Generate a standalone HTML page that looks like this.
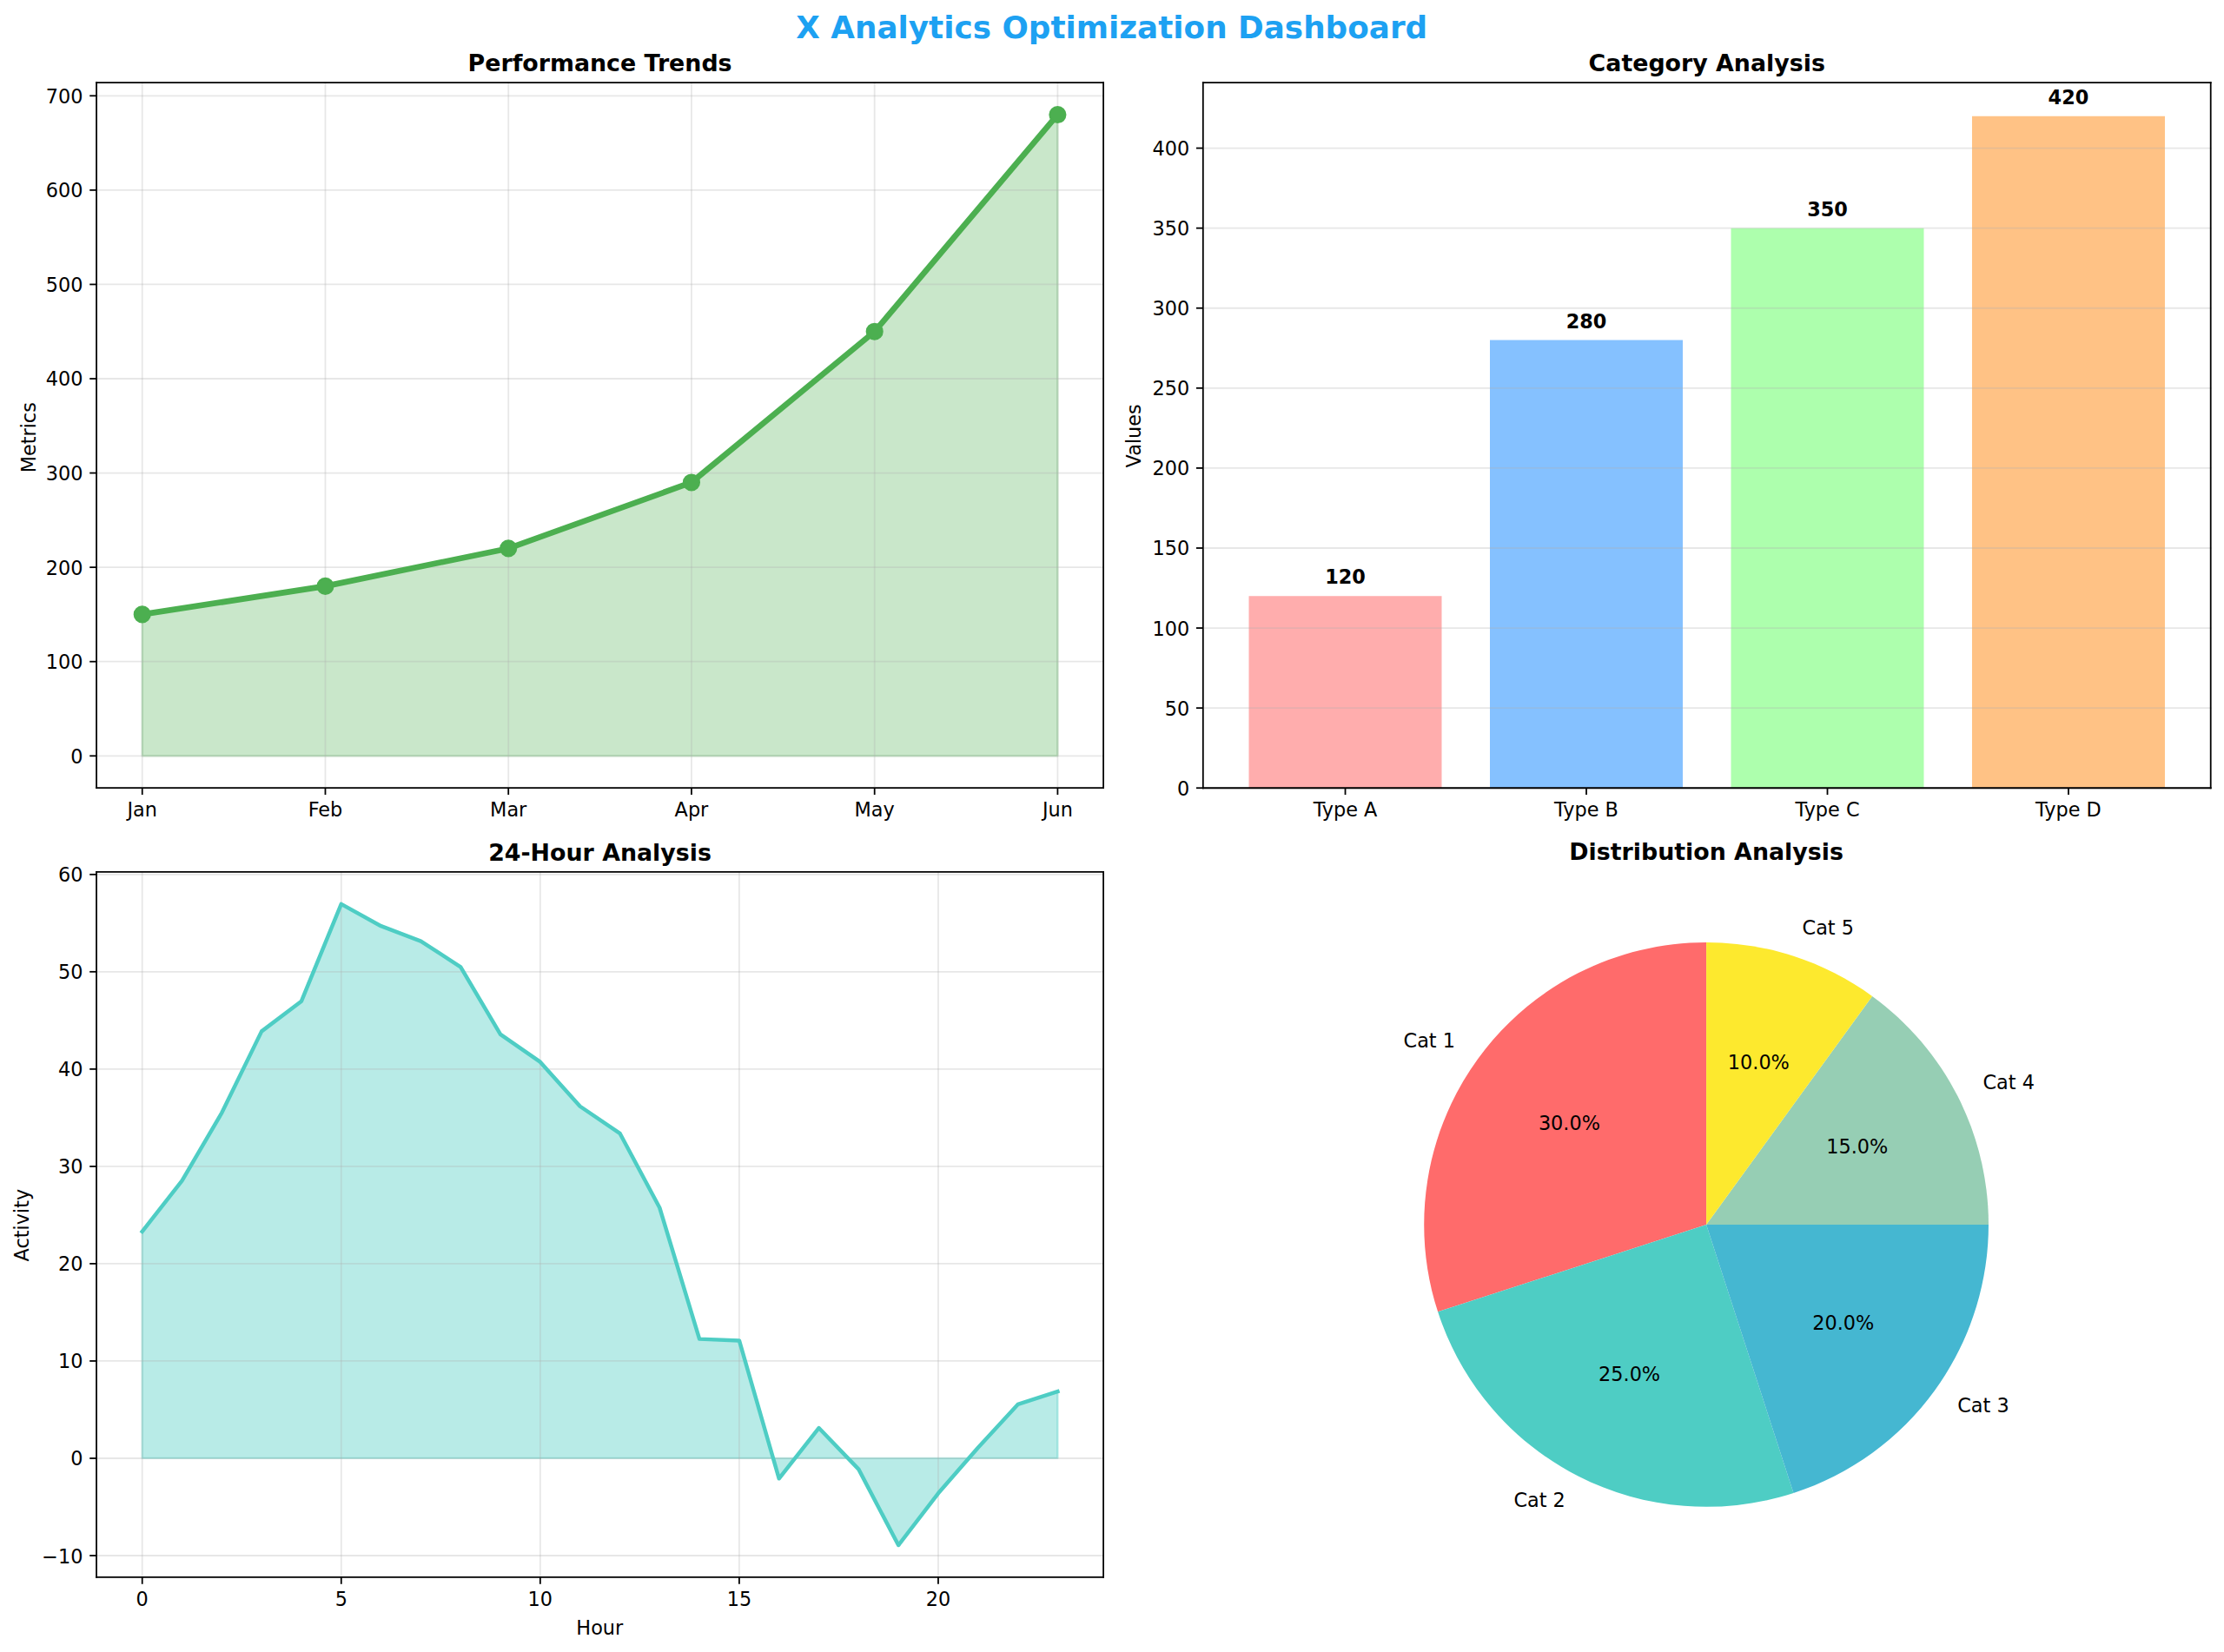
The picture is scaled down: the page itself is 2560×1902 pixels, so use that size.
<!DOCTYPE html>
<html lang="en">
<head>
<meta charset="utf-8">
<title>X Analytics Optimization Dashboard</title>
<style>
html,body{margin:0;padding:0;background:#fff}
body{width:2560px;height:1902px;overflow:hidden;font-family:"DejaVu Sans","Liberation Sans",sans-serif}
svg{display:block;position:absolute;left:0;top:0}
</style>
</head>
<body>
<svg width="2560" height="1902" viewBox="0 0 1144.8 850.32" preserveAspectRatio="none" style="stroke-linejoin:round;stroke-linecap:butt;font-family:'DejaVu Sans','Liberation Sans',sans-serif">
  <path d="M 0 850.32 L 1144.8 850.32 L 1144.8 0 L 0 0 z" style="fill:#ffffff"/>
  <g id="chart-1" class="chart">
   <path d="M 49.66 405.58 L 567.97 405.58 L 567.97 42.52 L 49.66 42.52 z" style="fill:#ffffff"/>
   <path d="M 73.22 -461.24 L 73.22 -534.05 L 167.46 -548.61 L 261.7 -568.03 L 355.94 -602 L 450.18 -679.66 L 544.41 -791.3 L 544.41 -461.24 L 544.41 -461.24 L 450.18 -461.24 L 355.94 -461.24 L 261.7 -461.24 L 167.46 -461.24 L 73.22 -461.24 z" transform="translate(0,850.32)" style="fill:#4caf50;fill-opacity:0.3;stroke:#4caf50;stroke-opacity:0.3"/>
   <path d="M 73.22 405.58 L 73.22 42.52" style="fill:none;stroke:#b0b0b0;stroke-opacity:0.3;stroke-width:0.8;stroke-linecap:square"/>
   <path d="M 0 0 L 0 3.5" transform="translate(73.22,405.58)" style="stroke:#000000;stroke-width:0.8"/>
   <text style="font-size:10px;font-family:'DejaVu Sans',sans-serif;text-anchor:middle" x="73.22" y="420.18">Jan</text>
   <path d="M 167.46 405.58 L 167.46 42.52" style="fill:none;stroke:#b0b0b0;stroke-opacity:0.3;stroke-width:0.8;stroke-linecap:square"/>
   <path d="M 0 0 L 0 3.5" transform="translate(167.46,405.58)" style="stroke:#000000;stroke-width:0.8"/>
   <text style="font-size:10px;font-family:'DejaVu Sans',sans-serif;text-anchor:middle" x="167.46" y="420.18">Feb</text>
   <path d="M 261.7 405.58 L 261.7 42.52" style="fill:none;stroke:#b0b0b0;stroke-opacity:0.3;stroke-width:0.8;stroke-linecap:square"/>
   <path d="M 0 0 L 0 3.5" transform="translate(261.7,405.58)" style="stroke:#000000;stroke-width:0.8"/>
   <text style="font-size:10px;font-family:'DejaVu Sans',sans-serif;text-anchor:middle" x="261.7" y="420.18">Mar</text>
   <path d="M 355.94 405.58 L 355.94 42.52" style="fill:none;stroke:#b0b0b0;stroke-opacity:0.3;stroke-width:0.8;stroke-linecap:square"/>
   <path d="M 0 0 L 0 3.5" transform="translate(355.94,405.58)" style="stroke:#000000;stroke-width:0.8"/>
   <text style="font-size:10px;font-family:'DejaVu Sans',sans-serif;text-anchor:middle" x="355.94" y="420.18">Apr</text>
   <path d="M 450.18 405.58 L 450.18 42.52" style="fill:none;stroke:#b0b0b0;stroke-opacity:0.3;stroke-width:0.8;stroke-linecap:square"/>
   <path d="M 0 0 L 0 3.5" transform="translate(450.18,405.58)" style="stroke:#000000;stroke-width:0.8"/>
   <text style="font-size:10px;font-family:'DejaVu Sans',sans-serif;text-anchor:middle" x="450.18" y="420.18">May</text>
   <path d="M 544.41 405.58 L 544.41 42.52" style="fill:none;stroke:#b0b0b0;stroke-opacity:0.3;stroke-width:0.8;stroke-linecap:square"/>
   <path d="M 0 0 L 0 3.5" transform="translate(544.41,405.58)" style="stroke:#000000;stroke-width:0.8"/>
   <text style="font-size:10px;font-family:'DejaVu Sans',sans-serif;text-anchor:middle" x="544.41" y="420.18">Jun</text>
   <path d="M 49.66 389.08 L 567.97 389.08" style="fill:none;stroke:#b0b0b0;stroke-opacity:0.3;stroke-width:0.8;stroke-linecap:square"/>
   <path d="M 0 0 L -3.5 0" transform="translate(49.66,389.08)" style="stroke:#000000;stroke-width:0.8"/>
   <text style="font-size:10px;font-family:'DejaVu Sans',sans-serif;text-anchor:end" x="42.66" y="392.88">0</text>
   <path d="M 49.66 340.54 L 567.97 340.54" style="fill:none;stroke:#b0b0b0;stroke-opacity:0.3;stroke-width:0.8;stroke-linecap:square"/>
   <path d="M 0 0 L -3.5 0" transform="translate(49.66,340.54)" style="stroke:#000000;stroke-width:0.8"/>
   <text style="font-size:10px;font-family:'DejaVu Sans',sans-serif;text-anchor:end" x="42.66" y="344.34">100</text>
   <path d="M 49.66 292 L 567.97 292" style="fill:none;stroke:#b0b0b0;stroke-opacity:0.3;stroke-width:0.8;stroke-linecap:square"/>
   <path d="M 0 0 L -3.5 0" transform="translate(49.66,292)" style="stroke:#000000;stroke-width:0.8"/>
   <text style="font-size:10px;font-family:'DejaVu Sans',sans-serif;text-anchor:end" x="42.66" y="295.8">200</text>
   <path d="M 49.66 243.46 L 567.97 243.46" style="fill:none;stroke:#b0b0b0;stroke-opacity:0.3;stroke-width:0.8;stroke-linecap:square"/>
   <path d="M 0 0 L -3.5 0" transform="translate(49.66,243.46)" style="stroke:#000000;stroke-width:0.8"/>
   <text style="font-size:10px;font-family:'DejaVu Sans',sans-serif;text-anchor:end" x="42.66" y="247.26">300</text>
   <path d="M 49.66 194.92 L 567.97 194.92" style="fill:none;stroke:#b0b0b0;stroke-opacity:0.3;stroke-width:0.8;stroke-linecap:square"/>
   <path d="M 0 0 L -3.5 0" transform="translate(49.66,194.93)" style="stroke:#000000;stroke-width:0.8"/>
   <text style="font-size:10px;font-family:'DejaVu Sans',sans-serif;text-anchor:end" x="42.66" y="198.72">400</text>
   <path d="M 49.66 146.39 L 567.97 146.39" style="fill:none;stroke:#b0b0b0;stroke-opacity:0.3;stroke-width:0.8;stroke-linecap:square"/>
   <path d="M 0 0 L -3.5 0" transform="translate(49.66,146.39)" style="stroke:#000000;stroke-width:0.8"/>
   <text style="font-size:10px;font-family:'DejaVu Sans',sans-serif;text-anchor:end" x="42.66" y="150.19">500</text>
   <path d="M 49.66 97.85 L 567.97 97.85" style="fill:none;stroke:#b0b0b0;stroke-opacity:0.3;stroke-width:0.8;stroke-linecap:square"/>
   <path d="M 0 0 L -3.5 0" transform="translate(49.66,97.85)" style="stroke:#000000;stroke-width:0.8"/>
   <text style="font-size:10px;font-family:'DejaVu Sans',sans-serif;text-anchor:end" x="42.66" y="101.65">600</text>
   <path d="M 49.66 49.31 L 567.97 49.31" style="fill:none;stroke:#b0b0b0;stroke-opacity:0.3;stroke-width:0.8;stroke-linecap:square"/>
   <path d="M 0 0 L -3.5 0" transform="translate(49.66,49.31)" style="stroke:#000000;stroke-width:0.8"/>
   <text style="font-size:10px;font-family:'DejaVu Sans',sans-serif;text-anchor:end" x="42.66" y="53.11">700</text>
   <text style="font-size:10px;font-family:'DejaVu Sans',sans-serif;text-anchor:middle" x="18.39" y="225.21" transform="rotate(-90 18.39 225.21)">Metrics</text>
   <path d="M 73.22 316.27 L 167.46 301.71 L 261.7 282.29 L 355.94 248.32 L 450.18 170.66 L 544.41 59.02" style="fill:none;stroke:#4caf50;stroke-width:3;stroke-linecap:square"/>
   <path d="M 0 4 C 1.06 4 2.08 3.58 2.83 2.83 C 3.58 2.08 4 1.06 4 0 C 4 -1.06 3.58 -2.08 2.83 -2.83 C 2.08 -3.58 1.06 -4 0 -4 C -1.06 -4 -2.08 -3.58 -2.83 -2.83 C -3.58 -2.08 -4 -1.06 -4 0 C -4 1.06 -3.58 2.08 -2.83 2.83 C -2.08 3.58 -1.06 4 0 4 z" transform="translate(73.22,316.27)" style="fill:#4caf50;stroke:#4caf50"/>
   <path d="M 0 4 C 1.06 4 2.08 3.58 2.83 2.83 C 3.58 2.08 4 1.06 4 0 C 4 -1.06 3.58 -2.08 2.83 -2.83 C 2.08 -3.58 1.06 -4 0 -4 C -1.06 -4 -2.08 -3.58 -2.83 -2.83 C -3.58 -2.08 -4 -1.06 -4 0 C -4 1.06 -3.58 2.08 -2.83 2.83 C -2.08 3.58 -1.06 4 0 4 z" transform="translate(167.46,301.71)" style="fill:#4caf50;stroke:#4caf50"/>
   <path d="M 0 4 C 1.06 4 2.08 3.58 2.83 2.83 C 3.58 2.08 4 1.06 4 0 C 4 -1.06 3.58 -2.08 2.83 -2.83 C 2.08 -3.58 1.06 -4 0 -4 C -1.06 -4 -2.08 -3.58 -2.83 -2.83 C -3.58 -2.08 -4 -1.06 -4 0 C -4 1.06 -3.58 2.08 -2.83 2.83 C -2.08 3.58 -1.06 4 0 4 z" transform="translate(261.7,282.29)" style="fill:#4caf50;stroke:#4caf50"/>
   <path d="M 0 4 C 1.06 4 2.08 3.58 2.83 2.83 C 3.58 2.08 4 1.06 4 0 C 4 -1.06 3.58 -2.08 2.83 -2.83 C 2.08 -3.58 1.06 -4 0 -4 C -1.06 -4 -2.08 -3.58 -2.83 -2.83 C -3.58 -2.08 -4 -1.06 -4 0 C -4 1.06 -3.58 2.08 -2.83 2.83 C -2.08 3.58 -1.06 4 0 4 z" transform="translate(355.94,248.32)" style="fill:#4caf50;stroke:#4caf50"/>
   <path d="M 0 4 C 1.06 4 2.08 3.58 2.83 2.83 C 3.58 2.08 4 1.06 4 0 C 4 -1.06 3.58 -2.08 2.83 -2.83 C 2.08 -3.58 1.06 -4 0 -4 C -1.06 -4 -2.08 -3.58 -2.83 -2.83 C -3.58 -2.08 -4 -1.06 -4 0 C -4 1.06 -3.58 2.08 -2.83 2.83 C -2.08 3.58 -1.06 4 0 4 z" transform="translate(450.18,170.66)" style="fill:#4caf50;stroke:#4caf50"/>
   <path d="M 0 4 C 1.06 4 2.08 3.58 2.83 2.83 C 3.58 2.08 4 1.06 4 0 C 4 -1.06 3.58 -2.08 2.83 -2.83 C 2.08 -3.58 1.06 -4 0 -4 C -1.06 -4 -2.08 -3.58 -2.83 -2.83 C -3.58 -2.08 -4 -1.06 -4 0 C -4 1.06 -3.58 2.08 -2.83 2.83 C -2.08 3.58 -1.06 4 0 4 z" transform="translate(544.41,59.02)" style="fill:#4caf50;stroke:#4caf50"/>
   <path d="M 49.66 405.58 L 49.66 42.52" style="fill:none;stroke:#000000;stroke-width:0.8;stroke-linejoin:miter;stroke-linecap:square"/>
   <path d="M 567.97 405.58 L 567.97 42.52" style="fill:none;stroke:#000000;stroke-width:0.8;stroke-linejoin:miter;stroke-linecap:square"/>
   <path d="M 49.66 405.58 L 567.97 405.58" style="fill:none;stroke:#000000;stroke-width:0.8;stroke-linejoin:miter;stroke-linecap:square"/>
   <path d="M 49.66 42.52 L 567.97 42.52" style="fill:none;stroke:#000000;stroke-width:0.8;stroke-linejoin:miter;stroke-linecap:square"/>
   <text style="font-weight:700;font-size:12px;font-family:'DejaVu Sans',sans-serif;text-anchor:middle" x="308.82" y="36.52">Performance Trends</text>
  </g>
  <g id="chart-2" class="chart">
   <path d="M 619.27 405.6 L 1137.96 405.6 L 1137.96 42.49 L 619.27 42.49 z" style="fill:#ffffff"/>
   <path d="M 642.84 405.6 L 742.11 405.6 L 742.11 306.8 L 642.84 306.8 z" style="fill:#ff9999;opacity:0.8"/>
   <path d="M 766.93 405.6 L 866.2 405.6 L 866.2 175.06 L 766.93 175.06 z" style="fill:#66b2ff;opacity:0.8"/>
   <path d="M 891.02 405.6 L 990.29 405.6 L 990.29 117.42 L 891.02 117.42 z" style="fill:#99ff99;opacity:0.8"/>
   <path d="M 1015.11 405.6 L 1114.38 405.6 L 1114.38 59.78 L 1015.11 59.78 z" style="fill:#ffb366;opacity:0.8"/>
   <path d="M 0 0 L 0 3.5" transform="translate(692.48,405.6)" style="stroke:#000000;stroke-width:0.8"/>
   <text style="font-size:10px;font-family:'DejaVu Sans',sans-serif;text-anchor:middle" x="692.48" y="420.2">Type A</text>
   <path d="M 0 0 L 0 3.5" transform="translate(816.57,405.6)" style="stroke:#000000;stroke-width:0.8"/>
   <text style="font-size:10px;font-family:'DejaVu Sans',sans-serif;text-anchor:middle" x="816.57" y="420.2">Type B</text>
   <path d="M 0 0 L 0 3.5" transform="translate(940.66,405.6)" style="stroke:#000000;stroke-width:0.8"/>
   <text style="font-size:10px;font-family:'DejaVu Sans',sans-serif;text-anchor:middle" x="940.66" y="420.2">Type C</text>
   <path d="M 0 0 L 0 3.5" transform="translate(1064.74,405.6)" style="stroke:#000000;stroke-width:0.8"/>
   <text style="font-size:10px;font-family:'DejaVu Sans',sans-serif;text-anchor:middle" x="1064.74" y="420.2">Type D</text>
   <path d="M 619.27 405.6 L 1137.96 405.6" style="fill:none;stroke:#b0b0b0;stroke-opacity:0.3;stroke-width:0.8;stroke-linecap:square"/>
   <path d="M 0 0 L -3.5 0" transform="translate(619.26,405.6)" style="stroke:#000000;stroke-width:0.8"/>
   <text style="font-size:10px;font-family:'DejaVu Sans',sans-serif;text-anchor:end" x="612.26" y="409.4">0</text>
   <path d="M 619.27 364.43 L 1137.96 364.43" style="fill:none;stroke:#b0b0b0;stroke-opacity:0.3;stroke-width:0.8;stroke-linecap:square"/>
   <path d="M 0 0 L -3.5 0" transform="translate(619.26,364.43)" style="stroke:#000000;stroke-width:0.8"/>
   <text style="font-size:10px;font-family:'DejaVu Sans',sans-serif;text-anchor:end" x="612.26" y="368.23">50</text>
   <path d="M 619.27 323.26 L 1137.96 323.26" style="fill:none;stroke:#b0b0b0;stroke-opacity:0.3;stroke-width:0.8;stroke-linecap:square"/>
   <path d="M 0 0 L -3.5 0" transform="translate(619.26,323.26)" style="stroke:#000000;stroke-width:0.8"/>
   <text style="font-size:10px;font-family:'DejaVu Sans',sans-serif;text-anchor:end" x="612.26" y="327.06">100</text>
   <path d="M 619.27 282.1 L 1137.96 282.1" style="fill:none;stroke:#b0b0b0;stroke-opacity:0.3;stroke-width:0.8;stroke-linecap:square"/>
   <path d="M 0 0 L -3.5 0" transform="translate(619.26,282.1)" style="stroke:#000000;stroke-width:0.8"/>
   <text style="font-size:10px;font-family:'DejaVu Sans',sans-serif;text-anchor:end" x="612.26" y="285.89">150</text>
   <path d="M 619.27 240.93 L 1137.96 240.93" style="fill:none;stroke:#b0b0b0;stroke-opacity:0.3;stroke-width:0.8;stroke-linecap:square"/>
   <path d="M 0 0 L -3.5 0" transform="translate(619.26,240.93)" style="stroke:#000000;stroke-width:0.8"/>
   <text style="font-size:10px;font-family:'DejaVu Sans',sans-serif;text-anchor:end" x="612.26" y="244.73">200</text>
   <path d="M 619.27 199.76 L 1137.96 199.76" style="fill:none;stroke:#b0b0b0;stroke-opacity:0.3;stroke-width:0.8;stroke-linecap:square"/>
   <path d="M 0 0 L -3.5 0" transform="translate(619.26,199.76)" style="stroke:#000000;stroke-width:0.8"/>
   <text style="font-size:10px;font-family:'DejaVu Sans',sans-serif;text-anchor:end" x="612.26" y="203.56">250</text>
   <path d="M 619.27 158.59 L 1137.96 158.59" style="fill:none;stroke:#b0b0b0;stroke-opacity:0.3;stroke-width:0.8;stroke-linecap:square"/>
   <path d="M 0 0 L -3.5 0" transform="translate(619.26,158.59)" style="stroke:#000000;stroke-width:0.8"/>
   <text style="font-size:10px;font-family:'DejaVu Sans',sans-serif;text-anchor:end" x="612.26" y="162.39">300</text>
   <path d="M 619.27 117.42 L 1137.96 117.42" style="fill:none;stroke:#b0b0b0;stroke-opacity:0.3;stroke-width:0.8;stroke-linecap:square"/>
   <path d="M 0 0 L -3.5 0" transform="translate(619.26,117.42)" style="stroke:#000000;stroke-width:0.8"/>
   <text style="font-size:10px;font-family:'DejaVu Sans',sans-serif;text-anchor:end" x="612.26" y="121.22">350</text>
   <path d="M 619.27 76.25 L 1137.96 76.25" style="fill:none;stroke:#b0b0b0;stroke-opacity:0.3;stroke-width:0.8;stroke-linecap:square"/>
   <path d="M 0 0 L -3.5 0" transform="translate(619.26,76.25)" style="stroke:#000000;stroke-width:0.8"/>
   <text style="font-size:10px;font-family:'DejaVu Sans',sans-serif;text-anchor:end" x="612.26" y="80.05">400</text>
   <text style="font-size:10px;font-family:'DejaVu Sans',sans-serif;text-anchor:middle" x="587.1" y="224.36" transform="rotate(-90 587.1 224.36)">Values</text>
   <path d="M 619.27 405.6 L 619.27 42.49" style="fill:none;stroke:#000000;stroke-width:0.8;stroke-linejoin:miter;stroke-linecap:square"/>
   <path d="M 1137.96 405.6 L 1137.96 42.49" style="fill:none;stroke:#000000;stroke-width:0.8;stroke-linejoin:miter;stroke-linecap:square"/>
   <path d="M 619.27 405.6 L 1137.96 405.6" style="fill:none;stroke:#000000;stroke-width:0.8;stroke-linejoin:miter;stroke-linecap:square"/>
   <path d="M 619.27 42.49 L 1137.96 42.49" style="fill:none;stroke:#000000;stroke-width:0.8;stroke-linejoin:miter;stroke-linecap:square"/>
   <text style="font-weight:700;font-size:10px;font-family:'DejaVu Sans',sans-serif;text-anchor:middle" x="692.48" y="300.6">120</text>
   <text style="font-weight:700;font-size:10px;font-family:'DejaVu Sans',sans-serif;text-anchor:middle" x="816.57" y="168.86">280</text>
   <text style="font-weight:700;font-size:10px;font-family:'DejaVu Sans',sans-serif;text-anchor:middle" x="940.66" y="111.22">350</text>
   <text style="font-weight:700;font-size:10px;font-family:'DejaVu Sans',sans-serif;text-anchor:middle" x="1064.74" y="53.59">420</text>
   <text style="font-weight:700;font-size:12px;font-family:'DejaVu Sans',sans-serif;text-anchor:middle" x="878.61" y="36.49">Category Analysis</text>
  </g>
  <g id="chart-3" class="chart">
   <path d="M 49.65 811.85 L 567.97 811.85 L 567.97 448.83 L 49.65 448.83 z" style="fill:#ffffff"/>
   <path d="M 73.21 -99.7 L 73.21 -216.45 L 93.7 -242.54 L 114.19 -277.6 L 134.67 -319.48 L 155.16 -335 L 175.65 -384.99 L 196.13 -373.67 L 216.62 -365.9 L 237.11 -352.58 L 257.59 -317.92 L 278.08 -303.7 L 298.57 -280.86 L 319.06 -266.99 L 339.54 -228.67 L 360.03 -161.11 L 380.52 -160.3 L 401 -89.28 L 421.49 -115.33 L 441.98 -94.04 L 462.46 -54.98 L 482.95 -81.67 L 503.44 -105.21 L 523.93 -127.45 L 544.41 -134.06 L 544.41 -99.7 L 544.41 -99.7 L 523.93 -99.7 L 503.44 -99.7 L 482.95 -99.7 L 462.46 -99.7 L 441.98 -99.7 L 421.49 -99.7 L 401 -99.7 L 380.52 -99.7 L 360.03 -99.7 L 339.54 -99.7 L 319.06 -99.7 L 298.57 -99.7 L 278.08 -99.7 L 257.59 -99.7 L 237.11 -99.7 L 216.62 -99.7 L 196.13 -99.7 L 175.65 -99.7 L 155.16 -99.7 L 134.67 -99.7 L 114.19 -99.7 L 93.7 -99.7 L 73.21 -99.7 z" transform="translate(0,850.32)" style="fill:#4ecdc4;fill-opacity:0.4;stroke:#4ecdc4;stroke-opacity:0.4"/>
   <path d="M 73.21 811.85 L 73.21 448.83" style="fill:none;stroke:#b0b0b0;stroke-opacity:0.3;stroke-width:0.8;stroke-linecap:square"/>
   <path d="M 0 0 L 0 3.5" transform="translate(73.21,811.85)" style="stroke:#000000;stroke-width:0.8"/>
   <text style="font-size:10px;font-family:'DejaVu Sans',sans-serif;text-anchor:middle" x="73.21" y="826.44">0</text>
   <path d="M 175.65 811.85 L 175.65 448.83" style="fill:none;stroke:#b0b0b0;stroke-opacity:0.3;stroke-width:0.8;stroke-linecap:square"/>
   <path d="M 0 0 L 0 3.5" transform="translate(175.65,811.85)" style="stroke:#000000;stroke-width:0.8"/>
   <text style="font-size:10px;font-family:'DejaVu Sans',sans-serif;text-anchor:middle" x="175.65" y="826.44">5</text>
   <path d="M 278.08 811.85 L 278.08 448.83" style="fill:none;stroke:#b0b0b0;stroke-opacity:0.3;stroke-width:0.8;stroke-linecap:square"/>
   <path d="M 0 0 L 0 3.5" transform="translate(278.08,811.85)" style="stroke:#000000;stroke-width:0.8"/>
   <text style="font-size:10px;font-family:'DejaVu Sans',sans-serif;text-anchor:middle" x="278.08" y="826.44">10</text>
   <path d="M 380.52 811.85 L 380.52 448.83" style="fill:none;stroke:#b0b0b0;stroke-opacity:0.3;stroke-width:0.8;stroke-linecap:square"/>
   <path d="M 0 0 L 0 3.5" transform="translate(380.52,811.85)" style="stroke:#000000;stroke-width:0.8"/>
   <text style="font-size:10px;font-family:'DejaVu Sans',sans-serif;text-anchor:middle" x="380.52" y="826.44">15</text>
   <path d="M 482.95 811.85 L 482.95 448.83" style="fill:none;stroke:#b0b0b0;stroke-opacity:0.3;stroke-width:0.8;stroke-linecap:square"/>
   <path d="M 0 0 L 0 3.5" transform="translate(482.95,811.85)" style="stroke:#000000;stroke-width:0.8"/>
   <text style="font-size:10px;font-family:'DejaVu Sans',sans-serif;text-anchor:middle" x="482.95" y="826.44">20</text>
   <text style="font-size:10px;font-family:'DejaVu Sans',sans-serif;text-anchor:middle" x="308.68" y="841.33">Hour</text>
   <path d="M 49.65 800.7 L 567.97 800.7" style="fill:none;stroke:#b0b0b0;stroke-opacity:0.3;stroke-width:0.8;stroke-linecap:square"/>
   <path d="M 0 0 L -3.5 0" transform="translate(49.65,800.7)" style="stroke:#000000;stroke-width:0.8"/>
   <text style="font-size:10px;font-family:'DejaVu Sans',sans-serif;text-anchor:end" x="42.65" y="804.5">−10</text>
   <path d="M 49.65 750.62 L 567.97 750.62" style="fill:none;stroke:#b0b0b0;stroke-opacity:0.3;stroke-width:0.8;stroke-linecap:square"/>
   <path d="M 0 0 L -3.5 0" transform="translate(49.65,750.62)" style="stroke:#000000;stroke-width:0.8"/>
   <text style="font-size:10px;font-family:'DejaVu Sans',sans-serif;text-anchor:end" x="42.65" y="754.42">0</text>
   <path d="M 49.65 700.53 L 567.97 700.53" style="fill:none;stroke:#b0b0b0;stroke-opacity:0.3;stroke-width:0.8;stroke-linecap:square"/>
   <path d="M 0 0 L -3.5 0" transform="translate(49.65,700.53)" style="stroke:#000000;stroke-width:0.8"/>
   <text style="font-size:10px;font-family:'DejaVu Sans',sans-serif;text-anchor:end" x="42.65" y="704.33">10</text>
   <path d="M 49.65 650.45 L 567.97 650.45" style="fill:none;stroke:#b0b0b0;stroke-opacity:0.3;stroke-width:0.8;stroke-linecap:square"/>
   <path d="M 0 0 L -3.5 0" transform="translate(49.65,650.45)" style="stroke:#000000;stroke-width:0.8"/>
   <text style="font-size:10px;font-family:'DejaVu Sans',sans-serif;text-anchor:end" x="42.65" y="654.25">20</text>
   <path d="M 49.65 600.36 L 567.97 600.36" style="fill:none;stroke:#b0b0b0;stroke-opacity:0.3;stroke-width:0.8;stroke-linecap:square"/>
   <path d="M 0 0 L -3.5 0" transform="translate(49.65,600.36)" style="stroke:#000000;stroke-width:0.8"/>
   <text style="font-size:10px;font-family:'DejaVu Sans',sans-serif;text-anchor:end" x="42.65" y="604.16">30</text>
   <path d="M 49.65 550.28 L 567.97 550.28" style="fill:none;stroke:#b0b0b0;stroke-opacity:0.3;stroke-width:0.8;stroke-linecap:square"/>
   <path d="M 0 0 L -3.5 0" transform="translate(49.65,550.28)" style="stroke:#000000;stroke-width:0.8"/>
   <text style="font-size:10px;font-family:'DejaVu Sans',sans-serif;text-anchor:end" x="42.65" y="554.08">40</text>
   <path d="M 49.65 500.19 L 567.97 500.19" style="fill:none;stroke:#b0b0b0;stroke-opacity:0.3;stroke-width:0.8;stroke-linecap:square"/>
   <path d="M 0 0 L -3.5 0" transform="translate(49.65,500.19)" style="stroke:#000000;stroke-width:0.8"/>
   <text style="font-size:10px;font-family:'DejaVu Sans',sans-serif;text-anchor:end" x="42.65" y="503.99">50</text>
   <path d="M 49.65 450.11 L 567.97 450.11" style="fill:none;stroke:#b0b0b0;stroke-opacity:0.3;stroke-width:0.8;stroke-linecap:square"/>
   <path d="M 0 0 L -3.5 0" transform="translate(49.65,450.11)" style="stroke:#000000;stroke-width:0.8"/>
   <text style="font-size:10px;font-family:'DejaVu Sans',sans-serif;text-anchor:end" x="42.65" y="453.91">60</text>
   <text style="font-size:10px;font-family:'DejaVu Sans',sans-serif;text-anchor:middle" x="14.93" y="630.65" transform="rotate(-90 14.93 630.65)">Activity</text>
   <path d="M 73.21 633.87 L 93.7 607.78 L 114.19 572.72 L 134.67 530.84 L 155.16 515.32 L 175.65 465.33 L 196.13 476.65 L 216.62 484.42 L 237.11 497.74 L 257.59 532.4 L 278.08 546.62 L 298.57 569.46 L 319.06 583.33 L 339.54 621.65 L 360.03 689.21 L 380.52 690.02 L 401 761.04 L 421.49 734.99 L 441.98 756.28 L 462.46 795.34 L 482.95 768.65 L 503.44 745.11 L 523.93 722.87 L 544.41 716.26" style="fill:none;stroke:#4ecdc4;stroke-width:2;stroke-linecap:square"/>
   <path d="M 49.65 811.85 L 49.65 448.83" style="fill:none;stroke:#000000;stroke-width:0.8;stroke-linejoin:miter;stroke-linecap:square"/>
   <path d="M 567.97 811.85 L 567.97 448.83" style="fill:none;stroke:#000000;stroke-width:0.8;stroke-linejoin:miter;stroke-linecap:square"/>
   <path d="M 49.65 811.85 L 567.97 811.85" style="fill:none;stroke:#000000;stroke-width:0.8;stroke-linejoin:miter;stroke-linecap:square"/>
   <path d="M 49.65 448.83 L 567.97 448.83" style="fill:none;stroke:#000000;stroke-width:0.8;stroke-linejoin:miter;stroke-linecap:square"/>
   <text style="font-weight:700;font-size:12px;font-family:'DejaVu Sans',sans-serif;text-anchor:middle" x="308.81" y="442.83">24-Hour Analysis</text>
  </g>
  <g id="chart-4" class="chart">
   <path d="M 878.32 485.04 C 855.4 485.04 832.79 490.46 812.36 500.87 C 791.94 511.28 774.26 526.38 760.79 544.92 C 747.31 563.47 738.41 584.95 734.83 607.59 C 731.24 630.24 733.06 653.41 740.15 675.21 L 878.32 630.32 z" style="fill:#ff6b6b"/>
   <path d="M 740.15 675.21 C 746.04 693.36 755.46 710.16 767.85 724.67 C 780.24 739.18 795.37 751.1 812.36 759.77 C 829.36 768.43 847.9 773.66 866.92 775.15 C 885.94 776.65 905.07 774.39 923.22 768.49 L 878.32 630.32 z" style="fill:#4ecdc4"/>
   <path d="M 923.22 768.49 C 952.39 759.01 977.83 740.53 995.86 715.71 C 1013.89 690.9 1023.6 660.99 1023.6 630.32 L 878.32 630.32 z" style="fill:#45b7d1"/>
   <path d="M 1023.6 630.32 C 1023.6 607.39 1018.18 584.79 1007.77 564.36 C 997.36 543.93 982.26 526.26 963.72 512.78 L 878.32 630.32 z" style="fill:#96ceb4"/>
   <path d="M 963.72 512.78 C 951.38 503.82 937.71 496.86 923.22 492.15 C 908.72 487.44 893.57 485.04 878.32 485.04 L 878.32 630.32 z" style="fill:#fde92e"/>
   <text style="font-size:10px;font-family:'DejaVu Sans',sans-serif;text-anchor:end" x="749.03" y="539.14">Cat 1</text>
   <text style="font-size:10px;font-family:'DejaVu Sans',sans-serif;text-anchor:middle" x="807.8" y="581.84">30.0%</text>
   <text style="font-size:10px;font-family:'DejaVu Sans',sans-serif;text-anchor:end" x="805.77" y="775.47">Cat 2</text>
   <text style="font-size:10px;font-family:'DejaVu Sans',sans-serif;text-anchor:middle" x="838.75" y="710.75">25.0%</text>
   <text style="font-size:10px;font-family:'DejaVu Sans',sans-serif;text-anchor:start" x="1007.61" y="727.01">Cat 3</text>
   <text style="font-size:10px;font-family:'DejaVu Sans',sans-serif;text-anchor:middle" x="948.84" y="684.32">20.0%</text>
   <text style="font-size:10px;font-family:'DejaVu Sans',sans-serif;text-anchor:start" x="1020.71" y="560.53">Cat 4</text>
   <text style="font-size:10px;font-family:'DejaVu Sans',sans-serif;text-anchor:middle" x="955.99" y="593.5">15.0%</text>
   <text style="font-size:10px;font-family:'DejaVu Sans',sans-serif;text-anchor:start" x="927.71" y="481.09">Cat 5</text>
   <text style="font-size:10px;font-family:'DejaVu Sans',sans-serif;text-anchor:middle" x="905.26" y="550.17">10.0%</text>
   <text style="font-weight:700;font-size:12px;font-family:'DejaVu Sans',sans-serif;text-anchor:middle" x="878.32" y="442.72">Distribution Analysis</text>
  </g>
  <text style="font-weight:700;font-size:16px;font-family:'DejaVu Sans',sans-serif;text-anchor:middle;fill:#1da1f2" x="572.27" y="19.52">X Analytics Optimization Dashboard</text>
</svg>
</body>
</html>
